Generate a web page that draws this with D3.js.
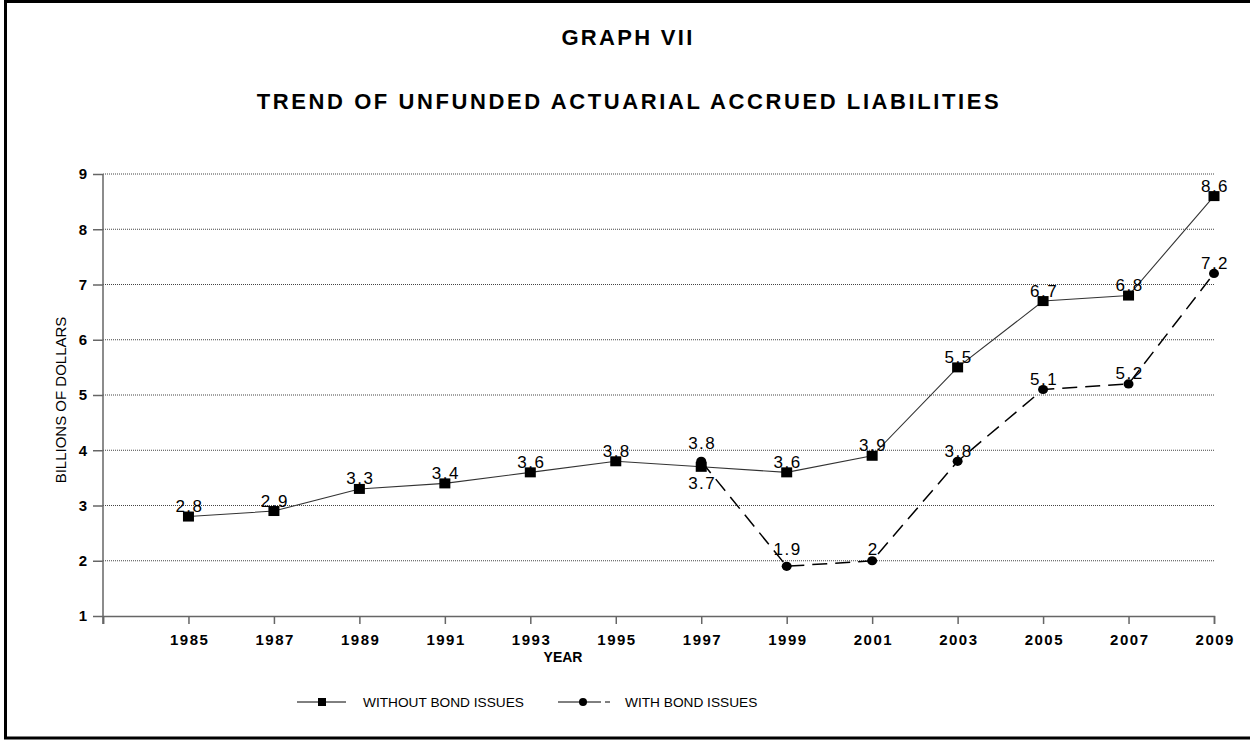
<!DOCTYPE html>
<html>
<head>
<meta charset="utf-8">
<script src="https://cdn.jsdelivr.net/npm/d3@7"></script>
<style>
    body { margin: 0; background: #fff; }
    svg { display: block; font-family: "Liberation Sans", Arial, sans-serif; }
    .plotAxis path, .plotAxis line { stroke: #666; stroke-width: 1.5; }
    .plotAxis text { font-size: 15px; font-weight: bold; fill: #000; }
    .gridLine { stroke: #444; stroke-width: 1; stroke-dasharray: 1,1; }
    .pointLabel { font-size: 17px; fill: #000; letter-spacing: 1.5px; }
</style>
</head>
<body>
<svg id="chart" width="1250" height="740"></svg>
<script>
"use strict";

const width = 1250;
const height = 740;
const margin = { "top": 174, "bottom": 124, "left": 103, "right": 36 };

const years = ["1985", "1987", "1989", "1991", "1993", "1995", "1997", "1999", "2001", "2003", "2005", "2007", "2009"];
const withoutBond = [2.8, 2.9, 3.3, 3.4, 3.6, 3.8, 3.7, 3.6, 3.9, 5.5, 6.7, 6.8, 8.6];
const withBondYears = ["1997", "1999", "2001", "2003", "2005", "2007", "2009"];
const withBond = [3.8, 1.9, 2.0, 3.8, 5.1, 5.2, 7.2];
const yTicks = [1, 2, 3, 4, 5, 6, 7, 8, 9];

// label nudges where the original moved a label off its default spot
const labelShiftWithout = { "1997": 22 };
const labelShiftWith = { "1997": -12, "1999": -11, "2001": -6 };

const svg = d3.select("svg#chart");

// page frame (no right edge in the original)
svg.append("path")
    .attr("d", "M1250,1.5H5.5V738H1250")
    .attr("fill", "none").attr("stroke", "#000").attr("stroke-width", 3);

svg.append("text")
    .attr("x", 628).attr("y", 45)
    .attr("text-anchor", "middle")
    .attr("font-size", 22).attr("font-weight", "bold")
    .attr("letter-spacing", "2.3px")
    .text("GRAPH VII");

svg.append("text")
    .attr("x", 629).attr("y", 109)
    .attr("text-anchor", "middle")
    .attr("font-size", 22).attr("font-weight", "bold")
    .attr("letter-spacing", "2.6px")
    .text("TREND OF UNFUNDED ACTUARIAL ACCRUED LIABILITIES");

let xScale = d3.scalePoint()
    .domain([""].concat(years))
    .range([margin.left, width - margin.right]);
let yScale = d3.scaleLinear()
    .domain([1, 9])
    .range([height - margin.bottom, margin.top]);

// grid
svg.append("g").selectAll("line.gridLine")
    .data(yTicks.slice(1))
    .enter()
    .append("line")
    .attr("class", "gridLine")
    .attr("x1", margin.left).attr("x2", width - margin.right)
    .attr("y1", d => yScale(d)).attr("y2", d => yScale(d));

let xAxis = d3.axisBottom(xScale).tickSize(8).tickPadding(10);
let yAxis = d3.axisLeft(yScale).tickValues(yTicks).tickSize(10).tickPadding(6);

let gx = svg.append("g")
    .attr("class", "plotAxis")
    .attr("transform", `translate(0,${height - margin.bottom})`)
    .call(xAxis);
gx.selectAll("text").attr("letter-spacing", "1.5px").attr("dx", "0.75");
gx.selectAll(".tick line").attr("stroke", "#222").attr("stroke-width", 1.2);

let gy = svg.append("g")
    .attr("class", "plotAxis")
    .attr("transform", `translate(${margin.left},0)`)
    .call(yAxis);
gy.select(".domain").attr("d", `M0,${margin.top}V${height - margin.bottom + 8}`);
gy.selectAll(".tick line").attr("stroke", "#222").attr("stroke-width", 1.2);
gy.selectAll("text").attr("font-size", 14);

svg.append("text")
    .attr("x", 563).attr("y", 662)
    .attr("text-anchor", "middle")
    .attr("font-size", 14).attr("font-weight", "bold")
    .text("YEAR");

svg.append("text")
    .attr("transform", "translate(66,400) rotate(-90)")
    .attr("text-anchor", "middle")
    .attr("font-size", 15)
    .text("BILLIONS OF DOLLARS");

// series
let lineGen = d3.line().x(d => xScale(d[0])).y(d => yScale(d[1]));
let withoutData = years.map((y, i) => [y, withoutBond[i]]);
let withData = withBondYears.map((y, i) => [y, withBond[i]]);

svg.append("path")
    .datum(withoutData)
    .attr("d", lineGen)
    .attr("fill", "none").attr("stroke", "#333").attr("stroke-width", 1.1);

svg.append("path")
    .datum(withData)
    .attr("d", lineGen)
    .attr("fill", "none").attr("stroke", "#000").attr("stroke-width", 1.5)
    .attr("stroke-dasharray", "15,8");

svg.append("g").selectAll("rect")
    .data(withoutData)
    .enter()
    .append("rect")
    .attr("x", d => xScale(d[0]) - 5.5)
    .attr("y", d => yScale(d[1]) - 5)
    .attr("width", 11).attr("height", 10)
    .attr("fill", "#000");

svg.append("g").selectAll("ellipse")
    .data(withData)
    .enter()
    .append("ellipse")
    .attr("cx", d => xScale(d[0]))
    .attr("cy", d => yScale(d[1]))
    .attr("rx", 5).attr("ry", 4.6)
    .attr("fill", "#000");

function drawLabels(data, shifts) {
    svg.append("g").selectAll("text")
        .data(data)
        .enter()
        .append("text")
        .attr("class", "pointLabel")
        .attr("text-anchor", "middle")
        .attr("x", d => xScale(d[0]) + 1)
        .attr("y", d => yScale(d[1]) + (shifts[d[0]] !== undefined ? shifts[d[0]] : -4.5))
        .text(d => d[1]);
}
drawLabels(withoutData, labelShiftWithout);
drawLabels(withData, labelShiftWith);

// legend
let legend = svg.append("g");
legend.append("line")
    .attr("x1", 297).attr("x2", 346).attr("y1", 702).attr("y2", 702)
    .attr("stroke", "#000").attr("stroke-width", 1);
legend.append("rect")
    .attr("x", 318).attr("y", 698).attr("width", 8).attr("height", 8)
    .attr("fill", "#000");
legend.append("text")
    .attr("x", 363).attr("y", 707)
    .attr("font-size", 13.7)
    .text("WITHOUT BOND ISSUES");

legend.append("line")
    .attr("x1", 558).attr("x2", 610).attr("y1", 702).attr("y2", 702)
    .attr("stroke", "#000").attr("stroke-width", 1)
    .attr("stroke-dasharray", "43,4,5");
legend.append("circle")
    .attr("cx", 583).attr("cy", 702).attr("r", 4)
    .attr("fill", "#000");
legend.append("text")
    .attr("x", 625).attr("y", 707)
    .attr("font-size", 13.7)
    .text("WITH BOND ISSUES");
</script>
</body>
</html>
